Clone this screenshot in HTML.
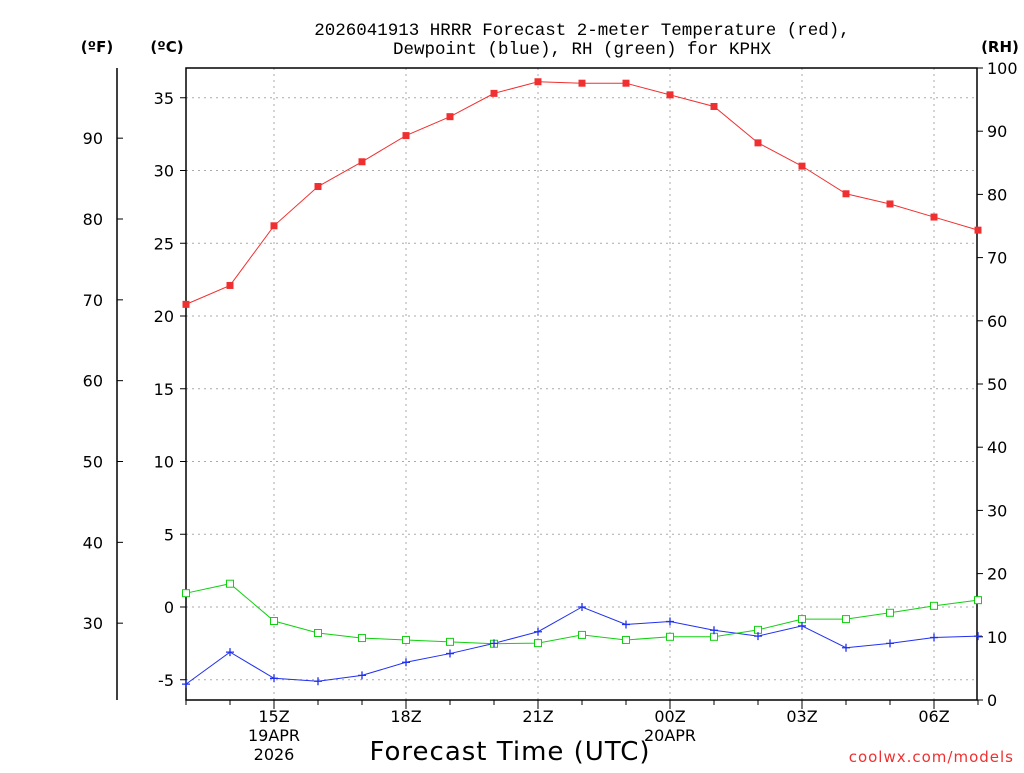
<!DOCTYPE html>
<html><head><meta charset="utf-8"><style>
body{margin:0;background:#fff;}
svg text{font-family:"DejaVu Sans","Liberation Sans",sans-serif;}
svg text.mono{font-family:"Liberation Mono","DejaVu Sans Mono",monospace;}
</style></head><body>
<svg id="c" width="1024" height="768" xmlns="http://www.w3.org/2000/svg">
<text class="mono" x="582" y="35" font-size="17.5" text-anchor="middle">2026041913 HRRR Forecast 2-meter Temperature (red),</text>
<text class="mono" x="582" y="54" font-size="17.5" text-anchor="middle">Dewpoint (blue), RH (green) for KPHX</text>
<text x="97" y="52" font-size="15" font-weight="bold" text-anchor="middle">(ºF)</text>
<text x="167" y="52" font-size="15" font-weight="bold" text-anchor="middle">(ºC)</text>
<text x="1000" y="52" font-size="15" font-weight="bold" text-anchor="middle">(RH)</text>
<text x="510" y="760" font-size="26" text-anchor="middle" letter-spacing="1">Forecast Time (UTC)</text>
<text x="1014" y="762" font-size="15" fill="#f03030" text-anchor="end" letter-spacing="1">coolwx.com/models</text>
<g id="grid"></g><g id="axes"></g><g id="series"></g>
</svg>
<script>
const hours=[13,14,15,16,17,18,19,20,21,22,23,0,1,2,3,4,5,6,7];
const tempC=[20.8,22.1,26.2,28.9,30.6,32.4,33.7,35.3,36.1,36.0,36.0,35.2,34.4,31.9,30.3,28.4,27.7,26.8,25.9];
const dewC=[-5.3,-3.1,-4.9,-5.1,-4.7,-3.8,-3.2,-2.5,-1.7,0.0,-1.2,-1.0,-1.6,-2.0,-1.3,-2.8,-2.5,-2.1,-2.0];
const rh=[16.9,18.4,12.5,10.6,9.8,9.5,9.2,8.9,9.0,10.3,9.5,10.0,10.0,11.1,12.8,12.8,13.8,14.9,15.8];
const cTicks=[-5,0,5,10,15,20,25,30,35];
const fTicks=[30,40,50,60,70,80,90];
const rhTicks=[0,10,20,30,40,50,60,70,80,90,100];
const xLabels=["15Z","18Z","21Z","00Z","03Z","06Z"];
const xLabelIdx=[2,5,8,11,14,17];

const NS="http://www.w3.org/2000/svg";
const X0=186,X1=977,Y0=68,Y1=700;
const xs=i=>X0+i*44;
const yC=c=>607-c*14.55;
const yF=f=>yC((f-32)/1.8);
const yR=r=>Y1-r*(Y1-Y0)/100;
function mk(tag,attrs,parent,txt){const e=document.createElementNS(NS,tag);for(const k in attrs)e.setAttribute(k,attrs[k]);if(txt!==undefined)e.textContent=txt;parent.appendChild(e);return e;}
const grid=document.getElementById('grid'),axes=document.getElementById('axes'),ser=document.getElementById('series');
cTicks.forEach(c=>{const y=yC(c);
 const g=mk('line',{x1:X0,x2:X1,y1:y,y2:y,stroke:'#aaa','stroke-dasharray':'2,4'},grid);
 
 mk('line',{x1:X0-6,x2:X0,y1:y,y2:y,stroke:'#000'},axes);
 const t=mk('text',{x:X0-12,y:y+6,'font-size':16,'text-anchor':'end'},axes,String(c));
 });
fTicks.forEach(f=>{const y=yF(f);
 mk('line',{x1:117,x2:123,y1:y,y2:y,stroke:'#000'},axes);
 const t=mk('text',{x:103,y:y+6,'font-size':16,'text-anchor':'end'},axes,String(f));
 });
rhTicks.forEach(r=>{const y=yR(r);
 mk('line',{x1:X1,x2:X1+6,y1:y,y2:y,stroke:'#000'},axes);
 const t=mk('text',{x:X1+10,y:y+6,'font-size':16},axes,String(r));
 });
hours.forEach((h,i)=>{mk('line',{x1:xs(i),x2:xs(i),y1:Y1,y2:Y1+5,stroke:'#000'},axes);});
xLabelIdx.forEach((idx,k)=>{const x=xs(idx);
 const g=mk('line',{x1:x,x2:x,y1:Y0,y2:Y1,stroke:'#aaa','stroke-dasharray':'2,4'},grid);
 
 mk('line',{x1:x,x2:x,y1:Y1,y2:Y1+9,stroke:'#000'},axes);
 const t=mk('text',{x:x,y:722,'font-size':16,'text-anchor':'middle'},axes,xLabels[k]);
 });
const d1=mk('text',{x:xs(2),y:741,'font-size':16,'text-anchor':'middle'},axes,'19APR');

const d2=mk('text',{x:xs(2),y:760,'font-size':16,'text-anchor':'middle'},axes,'2026');

const d3=mk('text',{x:xs(11),y:741,'font-size':16,'text-anchor':'middle'},axes,'20APR');

const fr=mk('rect',{x:X0,y:Y0,width:X1-X0,height:Y1-Y0,fill:'none',stroke:'#000','stroke-width':1.5},axes);

const fa=mk('line',{x1:117,x2:117,y1:Y0,y2:Y1,stroke:'#000','stroke-width':1.5},axes);

function line(vals,yf,color,name){
 const p=mk('polyline',{points:vals.map((v,i)=>xs(i)+','+yf(v)).join(' '),fill:'none',stroke:color,'stroke-width':1},ser);
 }
line(tempC,yC,'#f03030','temperature-line');
line(dewC,yC,'#2030f0','dewpoint-line');
line(rh,yR,'#10d010','rh-line');
tempC.forEach((v,i)=>{const r=mk('rect',{x:xs(i)-3.5,y:yC(v)-3.5,width:7,height:7,fill:'#f03030'},ser);
 });
rh.forEach((v,i)=>{const r=mk('rect',{x:xs(i)-3.5,y:yR(v)-3.5,width:7,height:7,fill:'#fff',stroke:'#10d010'},ser);
 });
dewC.forEach((v,i)=>{const x=xs(i),y=yC(v);
 const p=mk('path',{d:`M${x-4},${y}H${x+4}M${x},${y-4}V${y+4}`,stroke:'#2030f0','stroke-width':1.3},ser);
 });
</script>
</body></html>
